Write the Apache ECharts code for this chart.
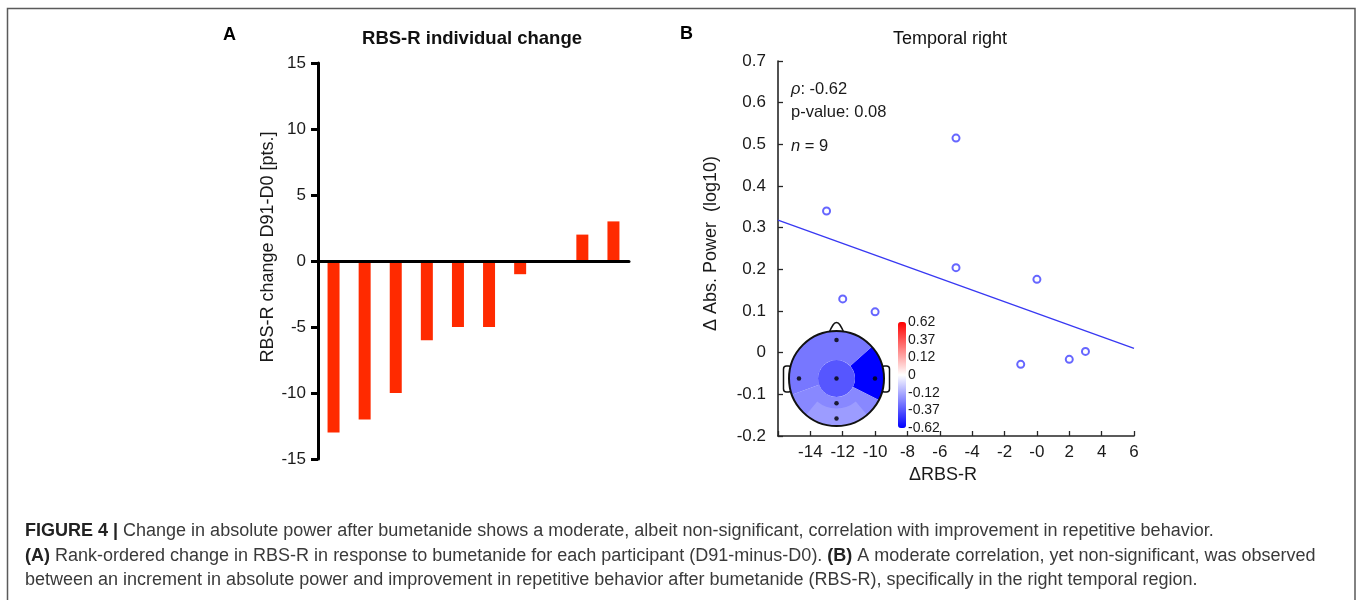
<!DOCTYPE html>
<html><head><meta charset="utf-8">
<script src="https://cdn.jsdelivr.net/npm/echarts@6/dist/echarts.min.js"></script>
<style>html,body{margin:0;padding:0;background:#fff}#c{width:1358px;height:600px}</style>
</head><body><div id="c"></div>
<script>
// ---------- Panel A: RBS-R individual change ----------
const participants = ['P1','P2','P3','P4','P5','P6','P7','P8','P9','P10'];
const rbsChange = [-13, -12, -10, -6, -5, -5, -1, 0, 2, 3];

// ---------- Panel B: Temporal right scatter ----------
const deltaRBS   = [-13, -12, -10, -5, -5, 0, -1, 2, 3];
const deltaPower = [0.340, 0.129, 0.098, 0.515, 0.204, 0.176, -0.028, -0.016, 0.003];
const rhoText = '-0.62';
const pText = '0.08';
const nText = '9';

// ---------- Head map inset (correlation per region) ----------
const outerRegionNames  = ['Right temporal', 'Parietal', 'Frontal / left temporal'];
const outerRegionValues = [-0.62, -0.29, -0.33];
const centralValue   = -0.41;
const occipitalValue = -0.24;
const electrodeX = [0, -0.79, 0, 0.81, 0, 0];
const electrodeY = [0.81, 0, 0, 0, -0.52, -0.84];
const colorbarLabels = ['-0.62', '-0.37', '-0.12', '0', '0.12', '0.37', '0.62'];
const cLim = 0.62;

function cmap(v) {
  const t = Math.max(-1, Math.min(1, v / cLim));
  if (t < 0) { const r = Math.round(255 * (1 + t)); return 'rgb(' + r + ',' + r + ',255)'; }
  const g = Math.round(255 * (1 - t)); return 'rgb(255,' + g + ',' + g + ')';
}

// least-squares fit
const nPts = deltaRBS.length;
const mx = deltaRBS.reduce((a, b) => a + b, 0) / nPts;
const my = deltaPower.reduce((a, b) => a + b, 0) / nPts;
let sxy = 0, sxx = 0;
for (let i = 0; i < nPts; i++) { sxy += (deltaRBS[i] - mx) * (deltaPower[i] - my); sxx += (deltaRBS[i] - mx) ** 2; }
const slope = sxy / sxx, icpt = my - slope * mx;
const xMinB = -16, xMaxB = 6;
const fitLine = [[xMinB, icpt + slope * xMinB], [xMaxB, icpt + slope * xMaxB]];

const FF = 'Liberation Sans, Arial, Helvetica, sans-serif';
const TXT = '#1a1a1a';
const headCx = 836.5, headCy = 378.5, headR = 47.5;

const chart = echarts.init(document.getElementById('c'), null, {renderer: 'canvas'});
const capRich = {
  n: {fontFamily: FF, fontSize: 18, fill: '#3a3a3a', color: '#3a3a3a'},
  b: {fontFamily: FF, fontSize: 18, fontWeight: 'bold', fill: '#222', color: '#222'}
};
const statRich = {
  n: {fontFamily: FF, fontSize: 16.5, fill: TXT, color: TXT},
  i: {fontFamily: FF, fontSize: 16.5, fontStyle: 'italic', fill: TXT, color: TXT}
};

chart.setOption({
  animation: false,
  backgroundColor: '#fff',
  grid: [
    {left: 318, top: 63, width: 311, height: 396},
    {left: 778, top: 61, width: 356, height: 375},
    {left: 898, top: 322, width: 8, height: 106},
    {left: headCx - headR, top: headCy - headR, width: headR * 2, height: headR * 2}
  ],
  xAxis: [
    {type: 'category', gridIndex: 0, data: participants, z: 5,
     axisLine: {lineStyle: {color: '#000', width: 3}},
     axisTick: {alignWithLabel: true, length: 7, lineStyle: {color: '#000', width: 3}},
     axisLabel: {show: false}, splitLine: {show: false}},
    {type: 'value', gridIndex: 1, min: xMinB, max: xMaxB, interval: 2,
     axisLine: {show: true, onZero: false, lineStyle: {color: '#262626', width: 1.6}},
     axisTick: {show: true, inside: true, length: 5, lineStyle: {color: '#262626', width: 1.3}},
     splitLine: {show: false},
     axisLabel: {fontFamily: FF, fontSize: 17, color: TXT, margin: 8,
       formatter: v => (v === xMinB ? '' : (v === 0 ? '-0' : String(v)))},
     name: 'ΔRBS-R', nameLocation: 'middle', nameGap: 30,
     nameTextStyle: {fontFamily: FF, fontSize: 18, color: TXT, padding: [0, 26, 0, 0]}},
    {type: 'value', gridIndex: 2, show: false},
    {type: 'value', gridIndex: 3, min: -1, max: 1, show: false}
  ],
  yAxis: [
    {type: 'value', gridIndex: 0, min: -15, max: 15, interval: 5, z: 5,
     axisLine: {show: true, lineStyle: {color: '#000', width: 3}},
     axisTick: {show: true, length: 7, lineStyle: {color: '#000', width: 3}},
     splitLine: {show: false},
     axisLabel: {fontFamily: FF, fontSize: 17, color: TXT, margin: 12},
     name: 'RBS-R change D91-D0 [pts.]', nameLocation: 'middle', nameGap: 37,
     nameTextStyle: {fontFamily: FF, fontSize: 18, color: TXT, padding: [0, 0, 0, 28]}},
    {type: 'value', gridIndex: 1, min: -0.2, max: 0.7, interval: 0.1,
     axisLine: {show: true, onZero: false, lineStyle: {color: '#262626', width: 1.6}},
     axisTick: {show: true, inside: true, length: 5, lineStyle: {color: '#262626', width: 1.3}},
     splitLine: {show: false},
     axisLabel: {fontFamily: FF, fontSize: 17, color: TXT, margin: 12,
       formatter: v => String(Math.round(v * 10) / 10)},
     name: 'Δ Abs. Power  (log10)', nameLocation: 'middle', nameGap: 58,
     nameTextStyle: {fontFamily: FF, fontSize: 18, color: TXT, padding: [0, 0, 0, 10]}},
    {type: 'category', gridIndex: 2, data: colorbarLabels, boundaryGap: false, position: 'right',
     axisLine: {show: false}, axisTick: {show: false}, splitLine: {show: false},
     axisLabel: {fontFamily: FF, fontSize: 14, color: TXT, margin: 2, interval: 0}},
    {type: 'value', gridIndex: 3, min: -1, max: 1, show: false}
  ],
  visualMap: {
    type: 'continuous', seriesIndex: 7, min: -cLim, max: cLim,
    inRange: {color: ['#0000ff', '#ffffff', '#ff0000']},
    calculable: false, hoverLink: false, orient: 'vertical',
    left: 898, top: 322, itemWidth: 8, itemHeight: 106, padding: 0, text: null
  },
  series: [
    {type: 'bar', xAxisIndex: 0, yAxisIndex: 0, data: rbsChange, barWidth: 12,
     itemStyle: {color: '#ff2a00'}, silent: true},
    {type: 'scatter', xAxisIndex: 1, yAxisIndex: 1,
     data: deltaRBS.map((x, i) => [x, deltaPower[i]]),
     symbol: 'emptyCircle', symbolSize: 7,
     itemStyle: {color: '#4040ff', borderColor: '#4040ff', borderWidth: 1.3}, z: 4},
    {type: 'line', xAxisIndex: 1, yAxisIndex: 1, data: fitLine, showSymbol: false,
     lineStyle: {color: '#3838f2', width: 1.3}, z: 3, silent: true},
    {type: 'pie', center: [headCx, headCy], radius: [18.5, headR], startAngle: 42, clockwise: true,
     label: {show: false}, labelLine: {show: false}, silent: true, z: 2,
     itemStyle: {borderWidth: 0},
     data: [
       {name: outerRegionNames[0], value: 69, itemStyle: {color: cmap(outerRegionValues[0])}},
       {name: outerRegionNames[1], value: 133, itemStyle: {color: cmap(outerRegionValues[1])}},
       {name: outerRegionNames[2], value: 158, itemStyle: {color: cmap(outerRegionValues[2])}}
     ]},
    {type: 'pie', center: [headCx, headCy], radius: [0, 18.5],
     label: {show: false}, labelLine: {show: false}, silent: true, z: 3,
     itemStyle: {borderWidth: 0},
     data: [{name: 'Central', value: 1, itemStyle: {color: cmap(centralValue)}}]},
    {type: 'pie', center: [headCx, headCy], radius: [30, headR], startAngle: -50, clockwise: true,
     label: {show: false}, labelLine: {show: false}, silent: true, z: 3,
     itemStyle: {borderWidth: 0},
     data: [
       {name: 'Occipital', value: 80, itemStyle: {color: cmap(occipitalValue)}},
       {name: '', value: 280, itemStyle: {color: 'rgba(0,0,0,0)'}}
     ]},
    {type: 'scatter', xAxisIndex: 3, yAxisIndex: 3,
     data: electrodeX.map((x, i) => [x, electrodeY[i]]),
     symbolSize: 4.5, itemStyle: {color: '#000'}, z: 12, silent: true},
    {type: 'scatter', xAxisIndex: 2, yAxisIndex: 2, data: [], silent: true}
  ],
  graphic: [
    {type: 'rect', z: 0, silent: true, shape: {x: 7.5, y: 8.5, width: 1347.5, height: 640},
     style: {fill: 'none', stroke: '#5a5a5a', lineWidth: 1.5}},
    {type: 'text', x: 223, y: 35, style: {text: 'A', fontFamily: FF, fontSize: 18, fontWeight: 'bold', fill: '#000', verticalAlign: 'middle'}},
    {type: 'text', x: 680, y: 34, style: {text: 'B', fontFamily: FF, fontSize: 18, fontWeight: 'bold', fill: '#000', verticalAlign: 'middle'}},
    {type: 'text', x: 472, y: 39, style: {text: 'RBS-R individual change', fontFamily: FF, fontSize: 18.5, fontWeight: 'bold', fill: '#111', align: 'center', verticalAlign: 'middle'}},
    {type: 'text', x: 950, y: 39, style: {text: 'Temporal right', fontFamily: FF, fontSize: 18, fill: '#111', align: 'center', verticalAlign: 'middle'}},
    {type: 'text', x: 791, y: 89, style: {text: '{i|ρ}{n|: ' + rhoText + '}', rich: statRich, verticalAlign: 'middle'}},
    {type: 'text', x: 791, y: 112, style: {text: '{n|p-value: ' + pText + '}', rich: statRich, verticalAlign: 'middle'}},
    {type: 'text', x: 791, y: 146, style: {text: '{i|n}{n| = ' + nText + '}', rich: statRich, verticalAlign: 'middle'}},
    // head inset decorations
    {type: 'rect', z: 1, silent: true, shape: {x: headCx - headR - 5.5, y: 366, width: 8, height: 26, r: 3},
     style: {fill: '#fff', stroke: '#111', lineWidth: 1.5}},
    {type: 'rect', z: 1, silent: true, shape: {x: headCx + headR - 2.5, y: 366, width: 8, height: 26, r: 3},
     style: {fill: '#fff', stroke: '#111', lineWidth: 1.5}},
    {type: 'polygon', z: 1, silent: true,
     shape: {points: [[headCx - 7, 334], [headCx - 3.5, 325], [headCx, 322.5], [headCx + 3.5, 325], [headCx + 7, 334]], smooth: 0.3},
     style: {fill: '#fff', stroke: '#111', lineWidth: 1.5}},
    {type: 'circle', z: 10, silent: true, shape: {cx: headCx, cy: headCy, r: headR},
     style: {fill: 'none', stroke: '#111', lineWidth: 2}},
    // caption
    {type: 'text', x: 25, y: 531, style: {verticalAlign: 'middle', rich: capRich,
      text: '{b|FIGURE 4 |}{n| Change in absolute power after bumetanide shows a moderate, albeit non-significant, correlation with improvement in repetitive behavior.}'}},
    {type: 'text', x: 25, y: 556, style: {verticalAlign: 'middle', rich: capRich,
      text: '{b|(A)}{n| Rank-ordered change in RBS-R in response to bumetanide for each participant (D91-minus-D0). }{b|(B)}{n| A moderate correlation, yet non-significant, was observed}'}},
    {type: 'text', x: 25, y: 580, style: {verticalAlign: 'middle', rich: capRich,
      text: '{n|between an increment in absolute power and improvement in repetitive behavior after bumetanide (RBS-R), specifically in the right temporal region.}'}}
  ]
});
</script></body></html>
